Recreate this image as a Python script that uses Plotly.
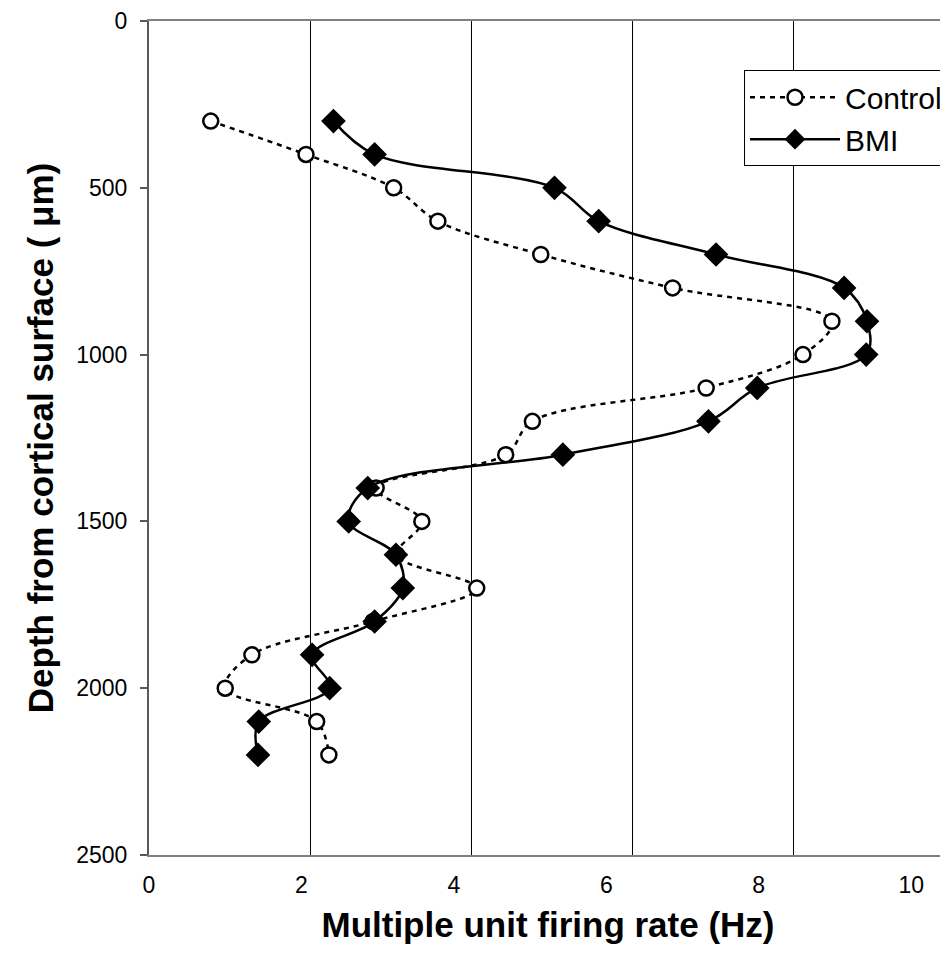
import plotly.graph_objects as go

depth = [300, 400, 500, 600, 700, 800, 900, 1000, 1100, 1200, 1300,
         1400, 1500, 1600, 1700, 1800, 1900, 2000, 2100, 2200]
control = [0.81, 2.06, 3.21, 3.79, 5.14, 6.87, 8.96, 8.58, 7.31, 5.03, 4.68,
           2.98, 3.58, 3.25, 4.30, 2.94, 1.35, 1.00, 2.20, 2.36]
bmi = [2.42, 2.96, 5.32, 5.90, 7.44, 9.12, 9.42, 9.41, 7.98, 7.34, 5.43,
       2.87, 2.62, 3.24, 3.33, 2.96, 2.14, 2.37, 1.44, 1.43]
x_ticks = [0, 2, 4, 6, 8, 10]
grid_ticks = [2, 4, 6, 8]
y_ticks = [0, 500, 1000, 1500, 2000, 2500]

FONT = "Arial, Liberation Sans, sans-serif"

fig = go.Figure()
fig.add_trace(go.Scatter(
    x=control, y=depth, name="Control", mode="lines+markers",
    line=dict(color="black", width=2.5, dash="5px,5px", shape="spline", smoothing=1),
    marker=dict(symbol="circle", size=15, color="white", line=dict(color="black", width=2.5)),
))
fig.add_trace(go.Scatter(
    x=bmi, y=depth, name="BMI", mode="lines+markers",
    line=dict(color="black", width=2.5, shape="spline", smoothing=1),
    marker=dict(symbol="diamond", size=19, color="black", line=dict(width=0)),
))
# helper trace so the gridline axis is drawn
fig.add_trace(go.Scatter(x=[], y=[], xaxis="x2", yaxis="y", showlegend=False, hoverinfo="skip"))

fig.update_layout(
    width=940, height=945,
    margin=dict(l=141, r=0, t=11, b=98),
    paper_bgcolor="white", plot_bgcolor="white",
    font=dict(family=FONT, color="black", size=23),
    showlegend=True,
    legend=dict(
        x=0.746, y=0.941, xanchor="left", yanchor="top",
        bgcolor="white", bordercolor="black", borderwidth=1,
        font=dict(family=FONT, size=30, color="black"),
        itemwidth=90, tracegroupgap=0,
        entrywidth=230, entrywidthmode="pixels",
    ),
    xaxis=dict(
        range=[0, 10.47], tickvals=x_ticks, ticktext=[str(v) for v in x_ticks],
        showgrid=False, zeroline=False, showline=True, linecolor="#808080",
        linewidth=2, mirror=True, ticks="", ticklabelstandoff=8,
        ticklabeloverflow="allow",
        tickfont=dict(size=23),
        title=dict(text="<b>Multiple unit firing rate (Hz)</b>", font=dict(size=35), standoff=16),
    ),
    xaxis2=dict(
        range=[0, 9.91], overlaying="x", anchor="y", side="bottom",
        tickvals=grid_ticks, showgrid=True, gridcolor="black", gridwidth=1,
        showticklabels=False, showline=False, zeroline=False, ticks="",
    ),
    yaxis=dict(
        range=[2500, 0], tickvals=y_ticks, showgrid=False, zeroline=False,
        showline=True, linecolor="#595959", linewidth=2, ticks="outside",
        ticklen=7, tickcolor="#595959", tickwidth=1.5, ticklabelstandoff=8,
        ticklabeloverflow="allow",
        tickfont=dict(size=23),
        title=dict(text="<b>Depth from cortical surface ( μm)</b>", font=dict(size=35), standoff=12),
    ),
)

fig.write_html("out.html")
